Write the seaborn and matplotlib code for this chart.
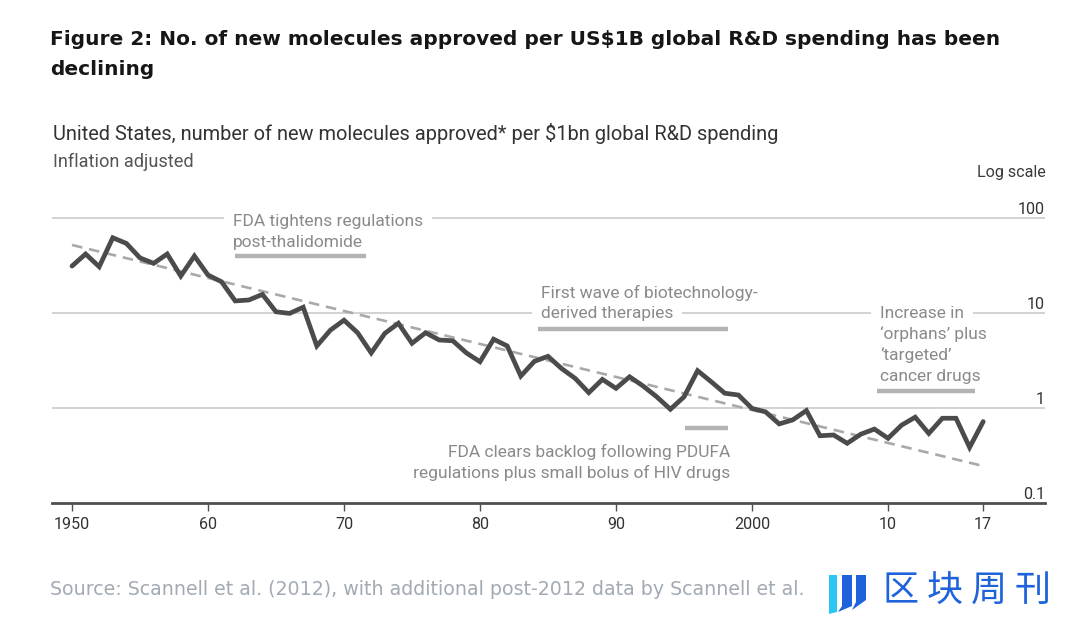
import matplotlib
matplotlib.use("Agg")
import matplotlib.pyplot as plt
import seaborn as sns
import pandas as pd
from matplotlib.patches import Polygon
from matplotlib.ticker import NullLocator

# ---------------- data ----------------
years = list(range(1950, 2018))
molecules_per_bn = [
    31.2, 41.8, 30.7, 62.0, 54.0, 38.0, 33.3, 41.8, 24.5, 39.8,
    25.1, 21.3, 13.4, 13.7, 15.7, 10.3, 9.9, 11.5, 4.5, 6.6,
    8.4, 6.2, 3.8, 6.1, 7.8, 4.8, 6.2, 5.2, 5.1, 3.8,
    3.07, 5.3, 4.5, 2.17, 3.1, 3.5, 2.6, 2.05, 1.45, 2.0,
    1.61, 2.13, 1.7, 1.31, 0.97, 1.31, 2.47, 1.89, 1.43, 1.37,
    0.99, 0.91, 0.68, 0.75, 0.94, 0.51, 0.52, 0.425, 0.53, 0.60,
    0.48, 0.66, 0.80, 0.54, 0.78, 0.78, 0.385, 0.72,
]
trend_years = [1950, 2017]
trend_values = [52.0, 0.245]

xtick_years = [1950, 1960, 1970, 1980, 1990, 2000, 2010, 2017]
xtick_labels = ["1950", "60", "70", "80", "90", "2000", "10", "17"]
ylevels = [100, 10, 1, 0.1]
ylevel_labels = ["100", "10", "1", "0.1"]

title_lines = ["Figure 2: No. of new molecules approved per US$1B global R&D spending has been",
               "declining"]
subtitle = "United States, number of new molecules approved* per $1bn global R&D spending"
subtitle2 = "Inflation adjusted"
scale_note = "Log scale"
source = "Source: Scannell et al. (2012), with additional post-2012 data by Scannell et al."
logo_chars = ["区", "块", "周", "刊"]

ann1 = ["FDA tightens regulations", "post-thalidomide"]
ann1_span = (1962, 1971.6)
ann2 = ["First wave of biotechnology-", "derived therapies"]
ann2_span = (1984.3, 1998.2)
ann3 = ["Increase in", "\u2018orphans\u2019 plus", "\u2018targeted\u2019", "cancer drugs"]
ann3_span = (2009.2, 2016.4)
ann4 = ["FDA clears backlog following PDUFA", "regulations plus small bolus of HIV drugs"]
ann4_span = (1995.1, 1998.2)

df = pd.DataFrame({"year": years, "value": molecules_per_bn})
trend = pd.DataFrame({"year": trend_years, "value": trend_values})

# ---------------- style ----------------
sns.set_theme(style="white")
plt.rcParams["font.family"] = ["Roboto", "DejaVu Sans"]
NARROW = ["Liberation Sans Narrow", "Roboto", "DejaVu Sans"]

W, H = 1080, 622
fig = plt.figure(figsize=(W / 100, H / 100), dpi=100)
fig.patch.set_facecolor("white")

def fx(px):
    return px / W

def fy(py):
    return 1 - py / H

renderer = fig.canvas.get_renderer()

def fit(txt, target_px):
    w = txt.get_window_extent(renderer=renderer).width
    txt.set_fontsize(txt.get_fontsize() * target_px / w)
    return txt.get_fontsize()

# axes: x from 52px to 1045px, y from 190px (top) to 503px (0.1 level)
ax = fig.add_axes([fx(52), fy(503), (1045 - 52) / W, (503 - 190) / H])
ax.set_facecolor("none")
px_per_year = 13.6
ax.set_xlim(1950 - (72 - 52) / px_per_year, 1950 + (1045 - 72) / px_per_year)
ax.set_yscale("log")
decade_px = 95.0
ax.set_ylim(0.1, 10 ** (2 + (218 - 190) / decade_px))

# gridlines
for v in ylevels[:-1]:
    ax.axhline(v, color="#c6c6c6", lw=1.1, zorder=0)

# trend and data
sns.lineplot(data=trend, x="year", y="value", ax=ax, color="#a9a9a9", lw=1.9, zorder=2)
ax.lines[-1].set_dashes((4.0, 2.6))
sns.lineplot(data=df, x="year", y="value", ax=ax, color="#4b4b4b", lw=3.4, zorder=4)
ax.lines[-1].set_solid_joinstyle("miter")

# axis styling
for s in ["left", "right", "top"]:
    ax.spines[s].set_visible(False)
ax.spines["bottom"].set_color("#4f4f4f")
ax.spines["bottom"].set_linewidth(2.0)
ax.spines["bottom"].set_zorder(5)
ax.yaxis.set_minor_locator(NullLocator())
ax.tick_params(axis="y", which="both", left=False, labelleft=False)
ax.set_xticks(xtick_years)
ax.set_xticklabels(xtick_labels)
ax.tick_params(axis="x", which="major", direction="out", length=6, width=1.0,
               color="#4f4f4f", labelcolor="#333333", pad=4, bottom=True)
ax.set_xlabel("")
ax.set_ylabel("")

probe = fig.text(0, 0, "1950", fontsize=12)
tick_fs = fit(probe, 36)
probe.remove()
for lab in ax.get_xticklabels():
    lab.set_fontsize(tick_fs)

# right-hand level labels
for v, lab in zip(ylevels, ylevel_labels):
    ax.annotate(lab, xy=(1, v), xycoords=("axes fraction", "data"), xytext=(0, 3.2),
                textcoords="offset points", ha="right", va="baseline",
                fontsize=tick_fs, color="#333333")
fig.text(fx(1046), fy(177), scale_note, ha="right", va="baseline",
         fontsize=tick_fs, color="#3a3a3a")

# annotations
probe = fig.text(0, 0, ann1[0], fontsize=12, family=NARROW)
ann_fs = fit(probe, 189)
probe.remove()
ANN_C = "#8a8a8a"
BAR_C = "#b3b3b3"

def year_at(px):
    return 1950 + (px - 72) / px_per_year

def val_at(py):
    return 10 ** ((408 - py) / decade_px)

def annotate_block(lines, x, y, ha="left", step=21.0, boxed=()):
    for i, line in enumerate(lines):
        off = (0, -i * step * 0.72)
        if i in boxed:
            ax.annotate(line, xy=(x, y), xycoords="data", xytext=off,
                        textcoords="offset points", ha=ha, va="baseline",
                        fontsize=ann_fs, family=NARROW, color="none", zorder=1,
                        bbox=dict(boxstyle="square,pad=0.5", fc="white", ec="none"))
        ax.annotate(line, xy=(x, y), xycoords="data", xytext=off,
                    textcoords="offset points", ha=ha, va="baseline",
                    fontsize=ann_fs, family=NARROW, color=ANN_C, zorder=3)

annotate_block(ann1, year_at(233), val_at(226), step=21, boxed=(0,))
ax.hlines(val_at(256), *ann1_span, color=BAR_C, lw=3.2, zorder=3)

annotate_block(ann2, year_at(541), val_at(298), step=19.5, boxed=(1,))
ax.hlines(val_at(329), *ann2_span, color=BAR_C, lw=3.2, zorder=3)

annotate_block(ann3, year_at(880), val_at(318), step=21, boxed=(0,))
ax.hlines(val_at(391), *ann3_span, color=BAR_C, lw=3.2, zorder=3)

annotate_block(ann4, year_at(730), val_at(457), ha="right", step=21)
ax.hlines(val_at(428), *ann4_span, color=BAR_C, lw=3.2, zorder=3)

# titles
t1 = fig.text(fx(50), fy(45), title_lines[0], fontsize=14, fontweight="bold",
              color="#161616", family=["DejaVu Sans"], va="baseline", ha="left")
title_fs = fit(t1, 950)
fig.text(fx(50), fy(75), title_lines[1], fontsize=title_fs, fontweight="bold",
         color="#161616", family=["DejaVu Sans"], va="baseline", ha="left")

st = fig.text(fx(53), fy(140.5), subtitle, fontsize=14, color="#333333",
              va="baseline", ha="left")
fit(st, 730)
st2 = fig.text(fx(53), fy(167), subtitle2, fontsize=12, color="#555555",
               va="baseline", ha="left")
fit(st2, 140)

src = fig.text(fx(50), fy(595), source, fontsize=12, color="#a2aab4",
               family=["DejaVu Sans"], va="baseline", ha="left")
fit(src, 753)

# logo
LOGO_BLUE = "#1f63dc"
LOGO_CYAN = "#2cc6f2"
icon_shapes = [
    ([(829, 575), (837, 575), (837, 612), (829, 614)], LOGO_CYAN),
    ([(842, 575), (852, 575), (852, 606), (838, 612), (842, 606)], LOGO_BLUE),
    ([(856, 575), (866, 575), (866, 600), (852, 610), (856, 602)], LOGO_BLUE),
]
for pts, c in icon_shapes:
    fig.patches.append(Polygon([(fx(a), fy(b)) for a, b in pts], closed=True,
                               transform=fig.transFigure, fc=c, ec="none"))
for ch, cx in zip(logo_chars, [901, 945, 989, 1033]):
    fig.text(fx(cx), fy(591), ch, fontsize=26, color=LOGO_BLUE,
             family=["Noto Sans CJK SC", "DejaVu Sans"], ha="center", va="center")

fig.savefig("out.png", dpi=100, facecolor="white")
